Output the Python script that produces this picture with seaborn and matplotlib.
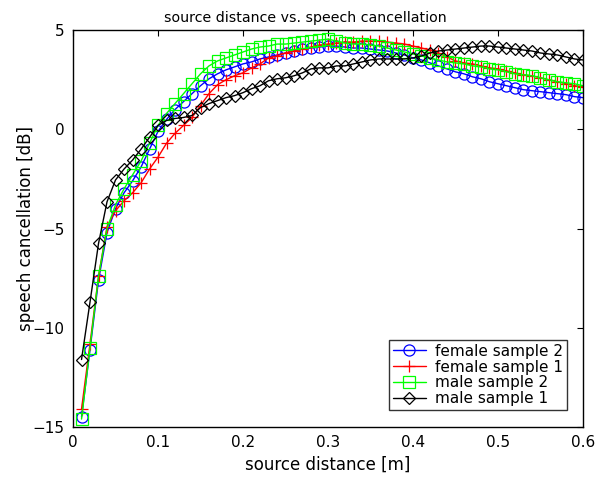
import numpy as np
import pandas as pd
import seaborn as sns
import matplotlib
matplotlib.use("Agg")
import matplotlib.pyplot as plt

distance = [round(0.01 * i, 2) for i in range(1, 61)]

female_sample_2 = [-14.5, -11.1, -7.6, -5.2, -4.0, -3.2, -2.6, -1.9, -1.0, -0.1,
                   0.5, 1.0, 1.4, 1.8, 2.2, 2.55, 2.8, 3.0, 3.15, 3.3,
                   3.4, 3.55, 3.65, 3.75, 3.85, 3.95, 4.05, 4.1, 4.15, 4.2,
                   4.2, 4.15, 4.1, 4.1, 4.05, 4.0, 3.95, 3.85, 3.75, 3.6,
                   3.5, 3.35, 3.2, 3.05, 2.9, 2.8, 2.65, 2.55, 2.4, 2.3,
                   2.2, 2.1, 2.0, 1.95, 1.9, 1.85, 1.8, 1.75, 1.65, 1.6]

female_sample_1 = [-14.1, -10.8, -7.4, -4.9, -4.1, -3.6, -3.2, -2.7, -2.0, -1.4,
                   -0.7, -0.2, 0.2, 0.6, 1.2, 1.8, 2.25, 2.5, 2.7, 2.85,
                   3.1, 3.3, 3.6, 3.7, 3.85, 3.95, 4.05, 4.15, 4.25, 4.3,
                   4.35, 4.4, 4.4, 4.45, 4.45, 4.45, 4.4, 4.35, 4.3, 4.2,
                   4.1, 4.0, 3.85, 3.65, 3.45, 3.35, 3.3, 3.2, 3.1, 3.05,
                   2.95, 2.85, 2.75, 2.7, 2.6, 2.5, 2.4, 2.3, 2.2, 2.15]

male_sample_2 = [-14.6, -11.0, -7.4, -5.0, -3.8, -3.0, -2.3, -1.6, -0.7, 0.2,
                 0.8, 1.3, 1.8, 2.3, 2.8, 3.2, 3.45, 3.6, 3.75, 3.9,
                 4.05, 4.15, 4.2, 4.3, 4.3, 4.35, 4.4, 4.45, 4.5, 4.55,
                 4.45, 4.35, 4.3, 4.3, 4.25, 4.2, 4.1, 4.0, 3.9, 3.8,
                 3.7, 3.6, 3.5, 3.4, 3.35, 3.3, 3.2, 3.15, 3.05, 3.0,
                 2.9, 2.8, 2.75, 2.7, 2.6, 2.5, 2.4, 2.35, 2.3, 2.2]

male_sample_1 = [-11.6, -8.7, -5.75, -3.65, -2.55, -2.0, -1.55, -1.0, -0.4, 0.2,
                 0.45, 0.55, 0.6, 0.7, 1.1, 1.3, 1.45, 1.6, 1.7, 1.85,
                 2.05, 2.2, 2.45, 2.55, 2.6, 2.7, 2.85, 3.05, 3.1, 3.1,
                 3.2, 3.2, 3.3, 3.4, 3.5, 3.55, 3.55, 3.55, 3.55, 3.6,
                 3.7, 3.85, 3.95, 4.0, 4.05, 4.1, 4.15, 4.2, 4.2, 4.15,
                 4.1, 4.05, 4.0, 3.95, 3.85, 3.8, 3.75, 3.65, 3.55, 3.5]

series_names = ["female sample 2", "female sample 1", "male sample 2", "male sample 1"]
x_ticks = [0, 0.1, 0.2, 0.3, 0.4, 0.5, 0.6]
x_tick_labels = ["0", "0.1", "0.2", "0.3", "0.4", "0.5", "0.6"]
y_ticks = [-15, -10, -5, 0, 5]

sns.set_theme(style="white")
plt.rcParams['font.family'] = ['DejaVu Sans']
plt.rcParams['axes.unicode_minus'] = True
plt.rcParams['text.color'] = 'black'
plt.rcParams['axes.labelcolor'] = 'black'

fig = plt.figure(figsize=(6.01, 4.79), dpi=100)
ax = fig.add_axes([0.1215, 0.1086, 0.8485, 0.8284])

styles = [
    dict(color="#0000ff", marker="o"),
    dict(color="#ff0000", marker="+"),
    dict(color="#00ff00", marker="s"),
    dict(color="#000000", marker="D"),
]
values = [female_sample_2, female_sample_1, male_sample_2, male_sample_1]

for name, vals, st in zip(series_names, values, styles):
    df = pd.DataFrame({"distance": distance, "cancel": vals})
    ms = 8 if st["marker"] != "D" else 6.5
    sns.lineplot(data=df, x="distance", y="cancel", ax=ax, color=st["color"],
                 marker=st["marker"], markersize=ms, markerfacecolor="none",
                 markeredgecolor=st["color"], markeredgewidth=0.9,
                 linewidth=1.0, label=name)

ax.set_xlim(0, 0.6)
ax.set_ylim(-15, 5)
ax.set_xticks(x_ticks)
ax.set_xticklabels(x_tick_labels)
ax.set_yticks(y_ticks)
ax.tick_params(direction="in", length=4, width=0.8, top=True, right=True,
               labelsize=11, colors="black", pad=6)
for sp in ax.spines.values():
    sp.set_visible(True)
    sp.set_color("black")
    sp.set_linewidth(1.0)

ax.set_xlabel("source distance [m]", fontsize=12, labelpad=4)
ax.set_ylabel("speech cancellation [dB]", fontsize=12, labelpad=-2)
ax.set_title("source distance vs. speech cancellation", fontsize=10.2, x=0.455, pad=6)

leg = ax.legend(loc="lower right", fontsize=11, frameon=True, fancybox=False,
                edgecolor="black", borderpad=0.25, labelspacing=0.05,
                handlelength=2.2, handletextpad=0.6, borderaxespad=0,
                bbox_to_anchor=(0.969, 0.043))
leg.get_frame().set_linewidth(1.0)
for t in leg.get_texts():
    t.set_color("black")

fig.savefig("out.png", dpi=100, facecolor="white")
